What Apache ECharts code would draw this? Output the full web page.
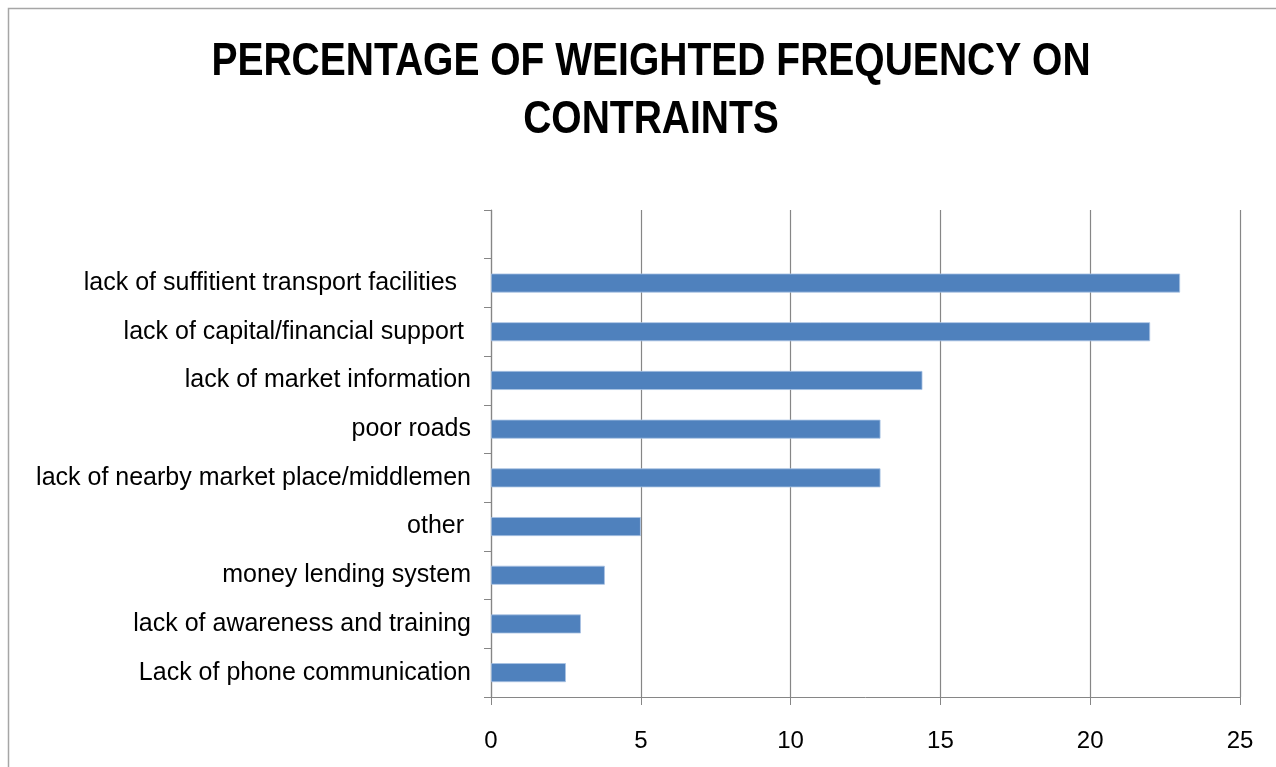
<!DOCTYPE html>
<html>
<head>
<meta charset="utf-8">
<title>Percentage of weighted frequency on constraints</title>
<script src="https://cdn.jsdelivr.net/npm/echarts@6/dist/echarts.min.js"></script>
<style>
  html, body { margin: 0; padding: 0; background: #ffffff; }
  #chart { width: 1276px; height: 767px; }
</style>
</head>
<body>
<div id="chart"></div>
<script>
// Constraint categories, listed top to bottom (first slot is left blank)
const categories = [
  '',
  'lack of suffitient transport facilities  ',
  'lack of capital/financial support ',
  'lack of market information',
  'poor roads',
  'lack of nearby market place/middlemen',
  'other ',
  'money lending system',
  'lack of awareness and training',
  'Lack of phone communication'
];

// Percentage of weighted frequency for each constraint
const weightedFrequency = ['-', 23, 22, 14.4, 13, 13, 5, 3.8, 3, 2.5];

// Value axis range
const axisMin = 0;
const axisMax = 25;
const axisStep = 5;

const titleText = 'PERCENTAGE OF WEIGHTED FREQUENCY ON\nCONTRAINTS';

const chart = echarts.init(document.getElementById('chart'), null, { renderer: 'canvas' });

const axisGray = '#868686';

chart.setOption({
  animation: false,
  backgroundColor: '#ffffff',
  graphic: [
    {
      // outer chart frame
      type: 'rect',
      silent: true,
      shape: { x: 8.5, y: 8.5, width: 1400, height: 1000 },
      style: { fill: 'none', stroke: '#a6a6a6', lineWidth: 1.5 }
    },
    {
      // condensed bold title
      type: 'text',
      silent: true,
      x: 651,
      y: 33,
      scaleX: 0.83,
      style: {
        text: titleText,
        fill: '#000000',
        font: 'bold 47px "Liberation Sans", Arial, sans-serif',
        lineHeight: 58,
        align: 'center',
        verticalAlign: 'top'
      }
    }
  ],
  grid: {
    left: 491,
    right: 36,
    top: 210,
    bottom: 70,
    containLabel: false
  },
  xAxis: {
    type: 'value',
    min: axisMin,
    max: axisMax,
    interval: axisStep,
    axisLine: { show: true, lineStyle: { color: axisGray, width: 1 } },
    axisTick: { show: true, length: 8, lineStyle: { color: axisGray, width: 1 } },
    splitLine: { show: true, lineStyle: { color: axisGray, width: 1.2 } },
    axisLabel: {
      margin: 32,
      fontFamily: '"Liberation Sans", Arial, sans-serif',
      fontSize: 24,
      color: '#000000'
    }
  },
  yAxis: {
    type: 'category',
    data: categories,
    inverse: true,
    axisLine: { show: true, lineStyle: { color: axisGray, width: 1.2 } },
    axisTick: { show: true, length: 7, interval: 0, lineStyle: { color: axisGray, width: 1 } },
    splitLine: { show: false },
    axisLabel: {
      interval: 0,
      margin: 20,
      fontFamily: '"Liberation Sans", Arial, sans-serif',
      fontSize: 25,
      color: '#000000'
    }
  },
  series: [
    {
      type: 'bar',
      data: weightedFrequency,
      barWidth: '39%',
      itemStyle: {
        color: '#4f81bd',
        borderColor: '#a9c3e3',
        borderWidth: 0.8
      }
    }
  ]
});
</script>
</body>
</html>
